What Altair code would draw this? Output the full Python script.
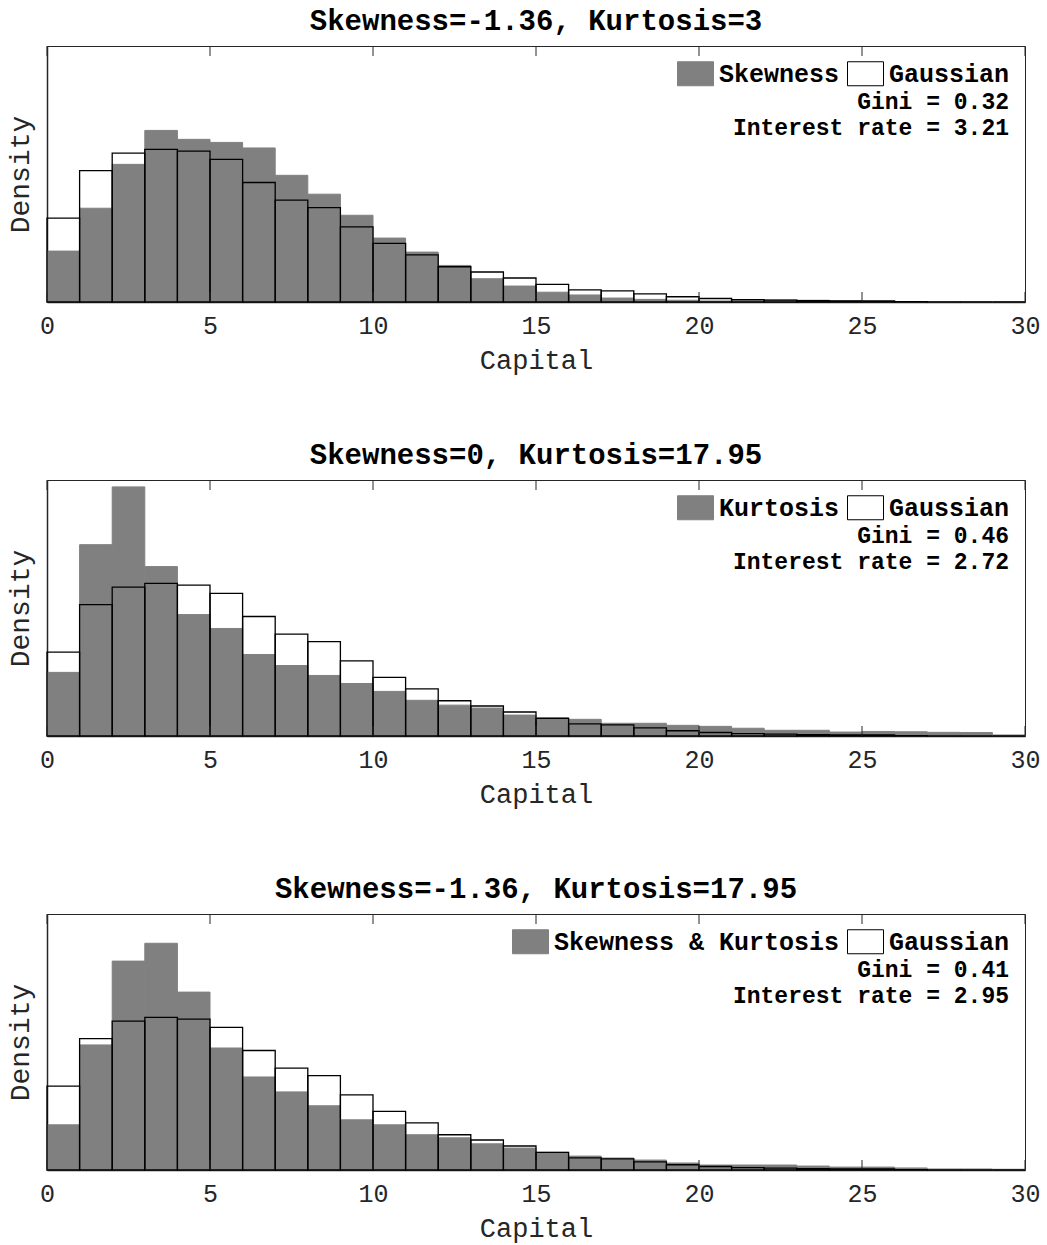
import altair as alt
import pandas as pd

# ---------------- data (densities per unit-width bin, bins 0-1 ... 29-30) ----------------
bin_left = list(range(30))

gaussian = [0.0573, 0.0898, 0.1018, 0.1044, 0.1032, 0.0975, 0.0817, 0.0696, 0.0645, 0.0513,
            0.0401, 0.0322, 0.0241, 0.0205, 0.0164, 0.0121, 0.0083, 0.0076, 0.0055, 0.0036,
            0.0024, 0.0016, 0.0013, 0.0010, 0.0008, 0.0007, 0.0003, 0.0001, 0.0, 0.0]

skewness = [0.0348, 0.0641, 0.0941, 0.1173, 0.1112, 0.1091, 0.1053, 0.0866, 0.0737, 0.0593,
            0.0437, 0.0341, 0.0250, 0.0159, 0.0109, 0.0067, 0.0048, 0.0027, 0.0018, 0.0012,
            0.0007, 0.0016, 0.0014, 0.0012, 0.0008, 0.0004, 0.0, 0.0, 0.0, 0.0]

kurtosis = [0.0435, 0.1308, 0.1703, 0.1158, 0.0830, 0.0735, 0.0557, 0.0482, 0.0414, 0.0359,
            0.0305, 0.0244, 0.0211, 0.0191, 0.0143, 0.0125, 0.0114, 0.0087, 0.0087, 0.0073,
            0.0066, 0.0053, 0.0039, 0.0039, 0.0027, 0.0031, 0.0029, 0.0025, 0.0024, 0.0007]

skew_kurt = [0.0309, 0.0855, 0.1428, 0.1550, 0.1216, 0.0834, 0.0636, 0.0534, 0.0439, 0.0343,
             0.0309, 0.0241, 0.0220, 0.0179, 0.0150, 0.0121, 0.0095, 0.0082, 0.0068, 0.0048,
             0.0034, 0.0034, 0.0034, 0.0027, 0.0020, 0.0020, 0.0014, 0.0007, 0.0007, 0.0005]

series_values = [skewness, kurtosis, skew_kurt]
series_names = ["Skewness", "Kurtosis", "Skewness & Kurtosis"]
panel_titles = ["Skewness=-1.36, Kurtosis=3",
                "Skewness=0, Kurtosis=17.95",
                "Skewness=-1.36, Kurtosis=17.95"]
gini_values = ["0.32", "0.46", "0.41"]
interest_rates = ["3.21", "2.72", "2.95"]
x_ticks = [0, 5, 10, 15, 20, 25, 30]

FONT = "Liberation Mono"
W, H = 978, 256
YMAX = 0.175
AXIS_COLOR = "#262626"
GRAY = "#808080"


def panel(i):
    name = series_names[i]
    df = pd.DataFrame({
        "left": bin_left + bin_left,
        "right": [b + 1 for b in bin_left] * 2,
        "density": series_values[i] + gaussian,
        "series": [name] * 30 + ["Gaussian"] * 30,
    })

    xscale = alt.Scale(domain=[0, 30], nice=False, zero=False)
    yscale = alt.Scale(domain=[0, YMAX], nice=False)

    xaxis = alt.Axis(values=x_ticks, title="Capital", grid=False, ticks=False, tickSize=0,
                     labelFont=FONT, labelFontSize=25, labelColor=AXIS_COLOR, labelPadding=11,
                     labelFlush=False,
                     titleFont=FONT, titleFontSize=27, titleFontWeight="normal",
                     titleColor=AXIS_COLOR, titlePadding=9,
                     domain=True, domainColor=AXIS_COLOR, domainWidth=1.5)
    yaxis = alt.Axis(title="Density", grid=False, ticks=False, labels=False,
                     titleFont=FONT, titleFontSize=28, titleFontWeight="normal",
                     titleColor=AXIS_COLOR, titlePadding=13,
                     domain=True, domainColor=AXIS_COLOR, domainWidth=1.5)

    legend = alt.Legend(title=None, orient="top-right", direction="horizontal",
                        symbolType="M-1.5,-1H1.5V1H-1.5Z", symbolSize=576,
                        symbolStrokeWidth=1, symbolOpacity=1,
                        labelFont=FONT, labelFontSize=25, labelFontWeight="bold",
                        labelColor="black", labelOffset=11, labelLimit=600,
                        columnPadding=5, offset=15, padding=0)

    hist = alt.Chart(df).transform_filter(
        alt.datum.series == name
    ).mark_rect(strokeWidth=1).encode(
        x=alt.X("left:Q", scale=xscale, axis=xaxis),
        x2="right:Q",
        y=alt.Y("density:Q", scale=yscale, axis=yaxis),
        y2=alt.datum(0),
        fill=alt.Fill("series:N", scale=alt.Scale(domain=[name, "Gaussian"], range=[GRAY, "white"]),
                      legend=legend),
        stroke=alt.Stroke("series:N", scale=alt.Scale(domain=[name, "Gaussian"], range=[GRAY, "black"]),
                          legend=legend),
    )

    gauss = alt.Chart(df).transform_filter(
        alt.datum.series == "Gaussian"
    ).mark_rect(fillOpacity=0, stroke="black", strokeWidth=1.3).encode(
        x="left:Q", x2="right:Q", y="density:Q", y2=alt.datum(0),
    )

    tick_df = pd.DataFrame({"t": x_ticks})
    ticks_top = alt.Chart(tick_df).mark_rule(color=AXIS_COLOR, strokeWidth=1).encode(
        x="t:Q", y=alt.value(0), y2=alt.value(10))
    ticks_bot = alt.Chart(tick_df).mark_rule(color=AXIS_COLOR, strokeWidth=1).encode(
        x="t:Q", y=alt.value(H), y2=alt.value(H - 10))

    gini_df = pd.DataFrame({"label": [f"Gini = {gini_values[i]}"]})
    rate_df = pd.DataFrame({"label": [f"Interest rate = {interest_rates[i]}"]})
    txt = dict(align="right", baseline="alphabetic", font=FONT, fontSize=23,
               fontWeight="bold", color="black")
    gini_t = alt.Chart(gini_df).mark_text(**txt).encode(
        x=alt.value(962), y=alt.value(63), text="label:N")
    rate_t = alt.Chart(rate_df).mark_text(**txt).encode(
        x=alt.value(962), y=alt.value(89), text="label:N")

    return alt.layer(hist, gauss, ticks_top, ticks_bot, gini_t, rate_t).properties(
        width=W, height=H,
        title=alt.TitleParams(panel_titles[i], font=FONT, fontSize=29, fontWeight="bold",
                              color="black", offset=10, frame="group"),
    )


chart = alt.vconcat(*[panel(i) for i in range(3)], spacing=66).resolve_scale(
    fill="independent", stroke="independent"
).resolve_legend(
    fill="independent", stroke="independent"
).properties(
    padding={"left": 5, "top": 6, "right": 2, "bottom": 2},
    background="white",
).configure_view(stroke=AXIS_COLOR, strokeWidth=1)

chart.save("out.html", embed_options={"renderer": "svg", "actions": False})
